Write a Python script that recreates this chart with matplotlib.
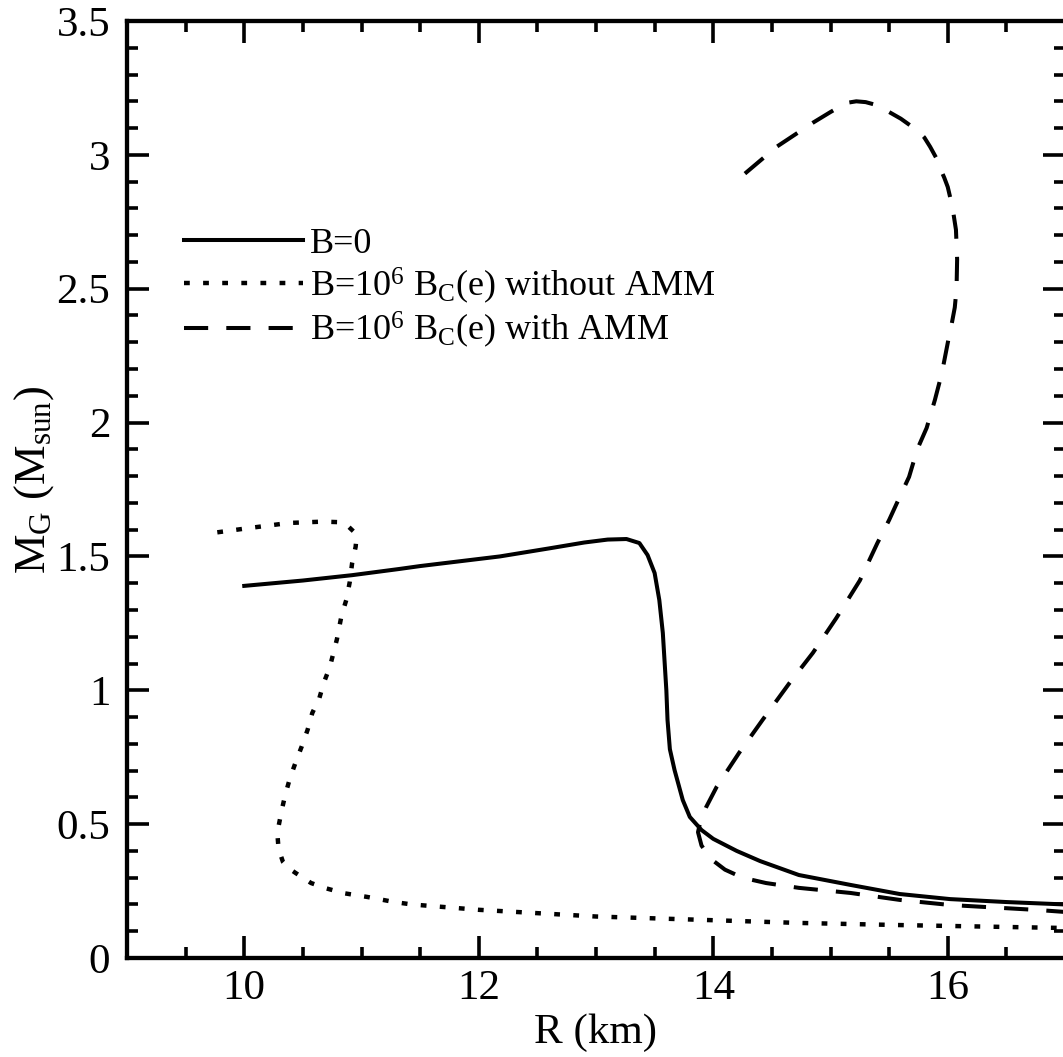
import numpy as np
import matplotlib
matplotlib.use("Agg")
import matplotlib.pyplot as plt
from matplotlib.ticker import MultipleLocator, FuncFormatter

plt.rcParams['font.family'] = ['Liberation Serif', 'DejaVu Serif']
plt.rcParams['mathtext.fontset'] = 'custom'
plt.rcParams['mathtext.rm'] = 'Liberation Serif'
plt.rcParams['mathtext.it'] = 'Liberation Serif:italic'

# B = 0
r_b0 = [10.0, 10.5, 10.92, 11.32, 11.5, 12.18, 12.6, 12.9, 13.1, 13.26, 13.37, 13.44,
        13.5, 13.54, 13.57, 13.6, 13.61, 13.63, 13.67, 13.74, 13.8, 13.9, 14.0, 14.2,
        14.4, 14.73, 15.17, 15.59, 16.02, 16.5, 17.0]
m_b0 = [1.39, 1.41, 1.43, 1.453, 1.464, 1.50, 1.53, 1.552, 1.563, 1.565, 1.55, 1.505,
        1.438, 1.337, 1.214, 1.0, 0.889, 0.78, 0.702, 0.59, 0.527, 0.478, 0.445, 0.40,
        0.362, 0.31, 0.273, 0.239, 0.22, 0.209, 0.2]

# B = 1e6 Bc(e), without AMM
r_noamm = [9.77, 10.04, 10.38, 10.67, 10.81, 10.88, 10.94, 10.955, 10.95, 10.92, 10.9,
           10.87, 10.83, 10.79, 10.73, 10.68, 10.64, 10.58, 10.54, 10.49, 10.44, 10.39,
           10.35, 10.32, 10.29, 10.285, 10.29, 10.31, 10.33, 10.38, 10.44, 10.57, 10.7,
           10.85, 11.05, 11.28, 11.43, 12.0, 13.0, 14.73, 15.59, 17.0]
m_noamm = [1.59, 1.606, 1.625, 1.63, 1.628, 1.615, 1.59, 1.56, 1.536, 1.475, 1.405,
           1.337, 1.28, 1.19, 1.087, 1.03, 0.97, 0.915, 0.852, 0.79, 0.733, 0.672,
           0.61, 0.553, 0.486, 0.45, 0.422, 0.385, 0.359, 0.335, 0.317, 0.28, 0.26,
           0.242, 0.228, 0.209, 0.2, 0.18, 0.155, 0.131, 0.123, 0.112]

# B = 1e6 Bc(e), with AMM
r_amm = [14.27, 14.54, 14.85, 15.0, 15.08, 15.15, 15.22, 15.3, 15.4, 15.5, 15.6, 15.68,
         15.74, 15.8, 15.85, 15.9, 15.93, 15.97, 16.0, 16.04, 16.07, 16.08, 16.075, 16.06,
         16.03, 16.01, 15.95, 15.89, 15.82, 15.74, 15.67, 15.59, 15.5, 15.4, 15.25, 15.05,
         14.85, 14.65, 14.42, 14.22, 14.03, 13.94, 13.89, 13.87, 13.9, 13.98, 14.1, 14.25,
         14.45, 14.73, 15.17, 15.59, 16.02, 16.78, 17.0]
m_amm = [2.93, 3.03, 3.12, 3.16, 3.18, 3.195, 3.2, 3.197, 3.185, 3.16, 3.135, 3.11,
         3.093, 3.065, 3.03, 2.99, 2.955, 2.915, 2.88, 2.805, 2.72, 2.61, 2.5, 2.43,
         2.36, 2.32, 2.185, 2.084, 1.98, 1.9, 1.797, 1.722, 1.636, 1.55, 1.41, 1.27,
         1.14, 1.027, 0.889, 0.766, 0.64, 0.564, 0.51, 0.47, 0.42, 0.37, 0.33, 0.30,
         0.28, 0.262, 0.243, 0.217, 0.198, 0.179, 0.172]

fig = plt.figure(figsize=(10.63, 10.57), dpi=100)
ax = fig.add_axes([127 / 1063, (1057 - 958) / 1057, (1065 - 127) / 1063, (958 - 21) / 1057])

lw = 2.9
ax.plot(r_b0, m_b0, color='black', lw=lw, solid_joinstyle='round', label='B=0')
ax.plot(r_noamm, m_noamm, color='black', lw=3.2, dashes=(1.3, 3.0),
        dash_joinstyle='round', label=r'B=10$^{6}$ B$_{\mathrm{C}}$(e) without AMM')
ax.plot(r_amm, m_amm, color='black', lw=lw, dashes=(6.0, 4.5),
        dash_joinstyle='round', label=r'B=10$^{6}$ B$_{\mathrm{C}}$(e) with AMM')

ax.set_xlim(9, 17)
ax.set_ylim(0, 3.5)
ax.set_xticks([10, 12, 14, 16])
ax.xaxis.set_minor_locator(MultipleLocator(0.5))
ax.yaxis.set_major_locator(MultipleLocator(0.5))
ax.yaxis.set_minor_locator(MultipleLocator(0.1))
ax.yaxis.set_major_formatter(FuncFormatter(lambda v, p: '%g' % v))

ax.tick_params(which='both', direction='in', top=True, right=True, width=2.6)
ax.tick_params(which='major', length=16, labelsize=31)
ax.tick_params(axis='x', which='major', pad=8)
ax.tick_params(axis='y', which='major', pad=12)
ax.tick_params(which='minor', length=8)
for s in ax.spines.values():
    s.set_linewidth(3.1)

ax.set_xlabel('R (km)', fontsize=31, labelpad=4)
ax.set_ylabel(r'M$_{\mathrm{G}}$ (M$_{\mathrm{sun}}$)', fontsize=32)
ax.yaxis.set_label_coords(-0.076, 0.51)

ax.legend(loc='upper left', bbox_to_anchor=(0.045, 0.795), frameon=False, fontsize=26,
          handlelength=3.3, handletextpad=0.2, labelspacing=0.12, borderaxespad=0)

fig.savefig('out.png', dpi=100)
